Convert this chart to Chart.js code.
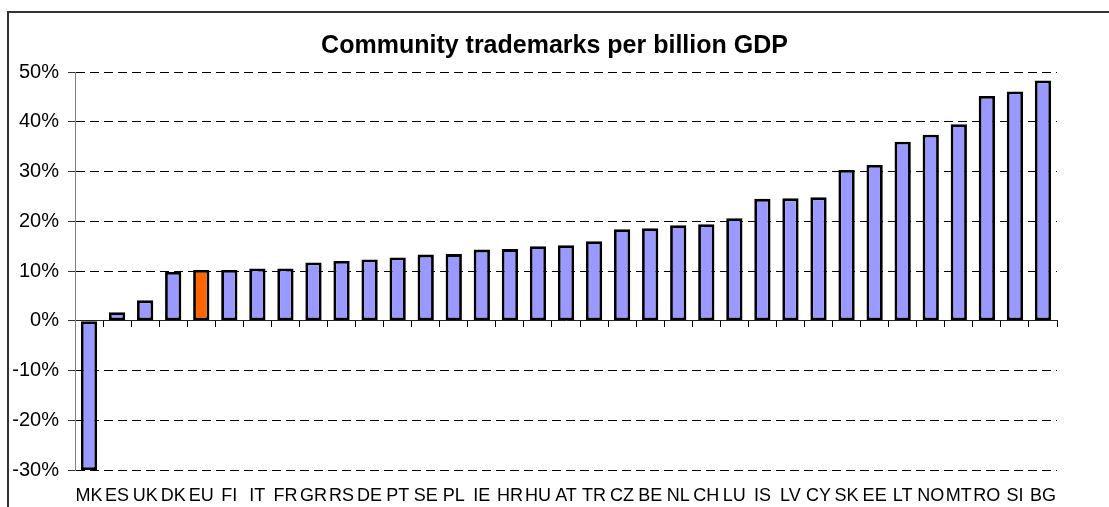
<!DOCTYPE html>
<html>
<head>
<meta charset="utf-8">
<script src="https://cdn.jsdelivr.net/npm/chart.js@4/dist/chart.umd.min.js"></script>
<style>
    html, body { margin: 0; padding: 0; background: #fff; overflow: hidden; }
    #wrap { position: relative; width: 1109px; height: 507px; overflow: hidden; }
    /* chart frame, runs off the right and bottom edges */
    #frame {
        position: absolute; left: 7px; top: 11px; right: 0; bottom: 0;
        border-top: 2px solid #333;
        border-left: 2px solid #333;
        pointer-events: none;
    }
    #chart { position: absolute; left: 0; top: 0; }
</style>
</head>
<body>
<div id="wrap">
    <div id="frame"></div>
    <canvas id="chart" width="1109" height="507"></canvas>
</div>
<script>
// countries, sorted by change
const countries = ['MK','ES','UK','DK','EU','FI','IT','FR','GR','RS','DE','PT','SE','PL','IE','HR','HU','AT','TR','CZ','BE','NL','CH','LU','IS','LV','CY','SK','EE','LT','NO','MT','RO','SI','BG'];

// change in %
const changes = [-30, 1.7, 4.1, 9.8, 10.2, 10.2, 10.5, 10.5, 11.7, 12.0, 12.3, 12.7, 13.3, 13.4, 14.3, 14.4, 15.0, 15.2, 16.0, 18.4, 18.6, 19.2, 19.4, 20.6, 24.5, 24.6, 24.8, 30.3, 31.3, 36.0, 37.4, 39.5, 45.2, 46.1, 48.3];

const yMin = -30;
const yMax = 50;
const yStep = 10;

const font = 'Liberation Sans, Arial, sans-serif';

const barColors = countries.map(c => c === 'EU' ? '#FF6600' : '#9999FF');

const ctx = document.getElementById('chart').getContext('2d');

new Chart(ctx, {
    type: 'bar',
    data: {
        labels: countries,
        datasets: [{
            data: changes,
            backgroundColor: barColors,
            borderColor: '#000',
            borderWidth: 2.8,
            borderSkipped: false,
            barPercentage: 0.58,
            categoryPercentage: 1,
            xAxisID: 'x',
            yAxisID: 'y'
        }]
    },
    options: {
        responsive: false,
        animation: false,
        layout: { padding: 0 },
        plugins: {
            legend: { display: false },
            tooltip: { enabled: false },
            title: {
                display: true,
                text: 'Community trademarks per billion GDP',
                color: '#000',
                font: { family: font, size: 25, weight: 'bold', lineHeight: 1.2 },
                padding: { top: 31, bottom: 11 }
            }
        },
        scales: {
            // axis line through zero with the small tick marks
            x: {
                type: 'category',
                position: { y: 0 },
                ticks: { display: false },
                grid: {
                    drawOnChartArea: false,
                    drawTicks: true,
                    tickLength: 6,
                    tickColor: '#000',
                    offset: true
                },
                border: { display: true, color: '#222', width: 1 }
            },
            // country labels under the plot
            x2: {
                type: 'category',
                position: 'bottom',
                labels: countries,
                grid: { display: false, drawTicks: false },
                border: { display: false },
                ticks: {
                    color: '#000',
                    font: { family: font, size: 18 },
                    padding: 15,
                    autoSkip: false,
                    maxRotation: 0
                },
                afterFit: s => { s.height = 37; }
            },
            y: {
                min: yMin,
                max: yMax,
                ticks: {
                    stepSize: yStep,
                    color: '#000',
                    font: { family: font, size: 20 },
                    padding: 9,
                    callback: v => v + '%'
                },
                grid: {
                    color: c => c.tick && c.tick.value === 0 ? 'rgba(0,0,0,0)' : '#000',
                    lineWidth: 1,
                    tickLength: 7,
                    tickColor: '#333'
                },
                border: { display: true, color: '#808080', width: 1, dash: [9, 5] },
                afterFit: s => { s.width = 75; }
            },
            // empty strip on the right of the plot
            yRight: {
                position: 'right',
                ticks: { display: false },
                grid: { display: false, drawTicks: false },
                border: { display: false },
                afterFit: s => { s.width = 52; }
            }
        }
    }
});
</script>
</body>
</html>
